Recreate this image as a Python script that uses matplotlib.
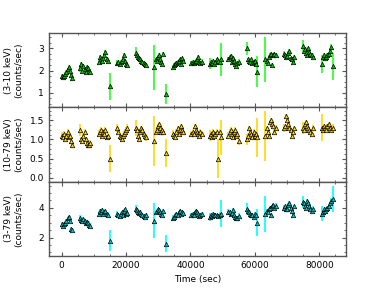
import matplotlib
matplotlib.use('Agg')
import matplotlib.pyplot as plt
from matplotlib.ticker import AutoMinorLocator

# observation times (sec), 15 orbits
time = [100, 450, 800, 1150, 1500, 1850, 2200, 2550, 2900, 3250,
        5700, 6050, 6400, 6750, 7100, 7450, 7800, 8150, 8500, 8850,
        11500, 11850, 12200, 12550, 12900, 13250, 13600, 13950, 14300, 15000,
        17300, 17650, 18000, 18350, 18700, 19050, 19400, 19750, 20100, 20450,
        23000, 23350, 23700, 24050, 24400, 24750, 25100, 25450, 25800, 26150,
        28800, 29150, 29500, 29850, 30200, 30550, 30900, 31250, 31600, 32300,
        34600, 34950, 35300, 35650, 36000, 36350, 36700, 37050, 37400, 37750,
        40300, 40650, 41000, 41350, 41700, 42050, 42400, 42750, 43100, 43450,
        46000, 46350, 46700, 47050, 47400, 47750, 48100, 48700, 49100, 49600,
        51800, 52150, 52500, 52850, 53200, 53550, 53900, 54250, 54600, 54950,
        57500, 57850, 58200, 58550, 58900, 59250, 59600, 59950, 60300, 60700,
        63300, 63650, 64000, 64350, 64700, 65050, 65400, 65750, 66100, 66450,
        69000, 69350, 69700, 70050, 70400, 70750, 71100, 71450, 71800, 72150,
        74800, 75150, 75500, 75850, 76200, 76550, 76900, 77250, 77600, 77950,
        80800, 81150, 81500, 81850, 82200, 82550, 82900, 83250, 83600, 84300]

rate_soft = [1.75, 1.72, 1.78, 1.85, 1.95, 2.05, 2.15, 2.0, 1.8, 1.65,
             2.1, 2.3, 2.0, 2.2, 2.05, 1.95, 2.15, 2.1, 2.0, 1.95,
             2.4, 2.6, 2.5, 2.45, 2.55, 2.7, 2.85, 2.5, 2.45, 1.3,
             2.35, 2.4, 2.3, 2.4, 2.45, 2.5, 2.7, 2.45, 2.3, 2.25,
             2.8, 2.7, 2.6, 2.55, 2.5, 2.45, 2.4, 2.35, 2.3, 2.25,
             2.15, 2.5, 2.45, 2.6, 2.7, 2.5, 2.4, 2.3, 2.75, 0.95,
             2.15, 2.25, 2.3, 2.35, 2.4, 2.45, 2.5, 2.3, 2.55, 2.45,
             2.35, 2.4, 2.35, 2.4, 2.45, 2.5, 2.6, 2.4, 2.35, 2.4,
             2.3, 2.4, 2.35, 2.45, 2.3, 2.4, 2.5, 2.45, 2.4, 2.5,
             2.5, 2.6, 2.65, 2.4, 2.55, 2.45, 2.3, 2.2, 2.35, 2.4,
             3.0, 2.5, 2.45, 2.4, 2.5, 2.35, 2.4, 2.45, 2.3, 1.95,
             2.5, 2.45, 2.35, 2.6, 2.7, 2.75, 2.25, 2.7, 2.75, 2.7,
             2.75, 2.7, 2.6, 2.65, 2.8, 2.9, 2.55, 2.5, 2.4, 2.6,
             3.1, 2.9, 2.95, 2.8, 2.7, 3.0, 2.85, 2.75, 2.7, 2.6,
             2.3, 2.6, 2.7, 2.55, 2.6, 2.7, 2.75, 2.9, 3.05, 2.2]
err_soft = [0.1, 0.08, 0.08, 0.08, 0.08, 0.08, 0.08, 0.08, 0.08, 0.1,
            0.15, 0.08, 0.08, 0.08, 0.08, 0.08, 0.08, 0.08, 0.08, 0.1,
            0.12, 0.08, 0.08, 0.08, 0.08, 0.08, 0.08, 0.08, 0.1, 0.6,
            0.12, 0.08, 0.08, 0.08, 0.08, 0.08, 0.08, 0.08, 0.08, 0.12,
            0.25, 0.08, 0.08, 0.08, 0.08, 0.08, 0.08, 0.08, 0.08, 0.1,
            1.0, 0.08, 0.08, 0.08, 0.08, 0.08, 0.08, 0.08, 0.1, 0.45,
            0.12, 0.08, 0.08, 0.08, 0.08, 0.08, 0.08, 0.08, 0.08, 0.1,
            0.1, 0.08, 0.08, 0.08, 0.08, 0.08, 0.08, 0.08, 0.08, 0.1,
            0.25, 0.08, 0.08, 0.08, 0.08, 0.08, 0.08, 0.08, 0.1, 0.75,
            0.12, 0.08, 0.08, 0.08, 0.08, 0.08, 0.08, 0.08, 0.08, 0.12,
            0.3, 0.08, 0.08, 0.08, 0.08, 0.08, 0.08, 0.08, 0.1, 0.7,
            1.0, 0.08, 0.08, 0.08, 0.08, 0.08, 0.08, 0.08, 0.08, 0.1,
            0.12, 0.08, 0.08, 0.08, 0.08, 0.08, 0.08, 0.08, 0.1, 0.08,
            0.25, 0.08, 0.08, 0.08, 0.08, 0.08, 0.08, 0.08, 0.08, 0.1,
            0.4, 0.08, 0.08, 0.08, 0.08, 0.08, 0.08, 0.08, 0.12, 0.6]

rate_hard = [1.1, 1.05, 1.15, 1.0, 1.1, 1.2, 1.05, 1.1, 0.95, 0.85,
             1.25, 1.0, 0.95, 1.1, 1.2, 1.0, 0.9, 0.85, 0.85, 0.9,
             1.15, 1.2, 1.25, 1.1, 1.2, 1.15, 1.25, 1.05, 1.1, 0.5,
             1.3, 1.2, 1.1, 1.05, 1.0, 1.1, 1.15, 1.2, 1.25, 1.3,
             1.3, 1.25, 1.1, 1.0, 1.2, 1.3, 1.25, 1.15, 1.1, 1.05,
             0.95, 1.2, 1.25, 1.35, 1.4, 1.3, 1.2, 1.25, 1.2, 0.65,
             1.15, 1.1, 1.05, 1.2, 1.3, 1.15, 1.25, 1.35, 1.25, 1.2,
             1.15, 1.2, 1.15, 1.35, 1.25, 1.2, 1.15, 1.1, 1.2, 1.15,
             1.1, 1.15, 1.05, 1.2, 1.1, 1.15, 1.2, 0.5, 1.2, 1.05,
             1.1, 1.2, 1.25, 1.15, 1.05, 1.2, 1.25, 1.1, 1.15, 0.95,
             1.0, 1.1, 1.3, 1.2, 1.15, 1.05, 1.2, 1.1, 1.15, 1.05,
             1.1, 1.3, 1.2, 1.1, 1.45, 1.5, 1.4, 1.35, 1.2, 1.3,
             1.3, 1.35, 1.6, 1.5, 1.4, 1.3, 1.25, 1.1, 1.2, 1.3,
             1.3, 1.25, 1.4, 1.45, 1.35, 1.3, 1.25, 1.2, 1.15, 1.3,
             1.3, 1.25, 1.35, 1.3, 1.25, 1.35, 1.4, 1.3, 1.25, 1.3]
err_hard = [0.08, 0.06, 0.06, 0.06, 0.06, 0.06, 0.06, 0.06, 0.06, 0.08,
            0.15, 0.06, 0.06, 0.06, 0.06, 0.06, 0.06, 0.06, 0.06, 0.08,
            0.1, 0.06, 0.06, 0.06, 0.06, 0.06, 0.06, 0.06, 0.08, 0.35,
            0.1, 0.06, 0.06, 0.06, 0.06, 0.06, 0.06, 0.06, 0.06, 0.1,
            0.2, 0.06, 0.06, 0.06, 0.06, 0.06, 0.06, 0.06, 0.06, 0.08,
            0.65, 0.06, 0.06, 0.06, 0.06, 0.06, 0.06, 0.06, 0.08, 0.37,
            0.1, 0.06, 0.06, 0.06, 0.06, 0.06, 0.06, 0.06, 0.06, 0.08,
            0.08, 0.06, 0.06, 0.06, 0.06, 0.06, 0.06, 0.06, 0.06, 0.08,
            0.15, 0.06, 0.06, 0.06, 0.06, 0.06, 0.06, 0.5, 0.08, 0.45,
            0.1, 0.06, 0.06, 0.06, 0.06, 0.06, 0.06, 0.06, 0.06, 0.1,
            0.15, 0.06, 0.06, 0.06, 0.06, 0.06, 0.06, 0.06, 0.08, 0.5,
            0.65, 0.06, 0.06, 0.06, 0.06, 0.06, 0.06, 0.06, 0.06, 0.08,
            0.1, 0.06, 0.06, 0.06, 0.06, 0.06, 0.06, 0.06, 0.08, 0.06,
            0.15, 0.06, 0.06, 0.06, 0.06, 0.06, 0.06, 0.06, 0.06, 0.08,
            0.35, 0.06, 0.06, 0.06, 0.06, 0.06, 0.06, 0.06, 0.08, 0.1]

rate_full = [2.9, 2.8, 2.9, 3.0, 3.1, 3.3, 3.4, 3.1, 2.6, 2.5,
             3.3, 3.2, 3.1, 3.25, 3.1, 3.0, 3.05, 2.95, 2.85, 2.8,
             3.6, 3.8, 3.7, 3.85, 3.6, 3.75, 3.8, 3.6, 3.55, 1.8,
             3.6, 3.5, 3.45, 3.6, 3.7, 3.55, 3.8, 3.9, 3.6, 3.65,
             3.9, 3.85, 3.7, 3.65, 3.75, 3.6, 3.5, 3.45, 3.4, 3.5,
             3.15, 3.7, 3.8, 3.9, 3.85, 3.75, 3.6, 3.5, 3.8, 1.6,
             3.3, 3.4, 3.5, 3.6, 3.5, 3.7, 3.8, 3.6, 3.75, 3.65,
             3.5, 3.6, 3.55, 3.7, 3.8, 3.75, 3.6, 3.45, 3.55, 3.6,
             3.4, 3.5, 3.45, 3.6, 3.5, 3.55, 3.5, 3.45, 3.55, 3.6,
             3.7, 3.75, 3.6, 3.65, 3.85, 3.5, 3.4, 3.35, 3.3, 3.45,
             3.9, 3.8, 3.7, 3.6, 3.5, 3.55, 3.4, 3.6, 3.5, 3.0,
             3.6, 3.8, 3.7, 3.9, 4.0, 3.5, 4.1, 4.2, 4.0, 4.15,
             4.0, 4.1, 3.95, 3.9, 4.2, 4.35, 4.0, 3.8, 3.5, 4.1,
             4.4, 4.3, 4.15, 4.0, 4.45, 4.3, 4.1, 3.9, 3.8, 3.95,
             3.6, 3.75, 3.9, 3.8, 3.95, 4.0, 4.15, 4.3, 4.45, 4.6]
err_full = [0.15, 0.12, 0.12, 0.12, 0.12, 0.12, 0.12, 0.12, 0.12, 0.15,
            0.25, 0.12, 0.12, 0.12, 0.12, 0.12, 0.12, 0.12, 0.12, 0.15,
            0.2, 0.12, 0.12, 0.12, 0.12, 0.12, 0.12, 0.12, 0.15, 0.7,
            0.2, 0.12, 0.12, 0.12, 0.12, 0.12, 0.12, 0.12, 0.12, 0.2,
            0.3, 0.12, 0.12, 0.12, 0.12, 0.12, 0.12, 0.12, 0.12, 0.15,
            1.2, 0.12, 0.12, 0.12, 0.12, 0.12, 0.12, 0.12, 0.15, 0.6,
            0.2, 0.12, 0.12, 0.12, 0.12, 0.12, 0.12, 0.12, 0.12, 0.15,
            0.15, 0.12, 0.12, 0.12, 0.12, 0.12, 0.12, 0.12, 0.12, 0.15,
            0.25, 0.12, 0.12, 0.12, 0.12, 0.12, 0.12, 0.12, 0.15, 0.9,
            0.2, 0.12, 0.12, 0.12, 0.12, 0.12, 0.12, 0.12, 0.12, 0.2,
            0.4, 0.12, 0.12, 0.12, 0.12, 0.12, 0.12, 0.12, 0.15, 0.9,
            1.2, 0.12, 0.12, 0.12, 0.12, 0.12, 0.12, 0.12, 0.12, 0.15,
            0.2, 0.12, 0.12, 0.12, 0.12, 0.12, 0.12, 0.12, 0.15, 0.12,
            0.4, 0.12, 0.12, 0.12, 0.12, 0.12, 0.12, 0.12, 0.12, 0.15,
            0.5, 0.12, 0.12, 0.12, 0.12, 0.12, 0.12, 0.12, 0.2, 0.9]

panels = [
    (rate_soft, err_soft, '#00c800', '#22ff22', '(3-10 keV)\n(counts/sec)', (0.35, 3.68), [1, 2, 3]),
    (rate_hard, err_hard, '#ffd700', '#ffd700', '(10-79 keV)\n(counts/sec)', (-0.1, 1.83), [0.0, 0.5, 1.0, 1.5]),
    (rate_full, err_full, '#00c8c8', '#00ffff', '(3-79 keV)\n(counts/sec)', (0.76, 5.76), [2, 4]),
]

plt.rcParams['font.size'] = 6.5
fig, axes = plt.subplots(3, 1, figsize=(3.84, 2.88), dpi=100, sharex=True)
fig.subplots_adjust(left=0.127, right=0.901, top=0.885, bottom=0.111, hspace=0)

for ax, (y, e, face, ecol, label, ylim, yticks) in zip(axes, panels):
    ax.errorbar(time, y, yerr=e, fmt='none', ecolor=ecol, elinewidth=1.2, capsize=0, zorder=1)
    ax.plot(time, y, '^', markersize=3.2, markerfacecolor=face, markeredgecolor='black',
            markeredgewidth=0.5, linestyle='none', zorder=2)
    ax.set_ylim(ylim)
    ax.set_yticks(yticks)
    ax.set_ylabel(label, fontsize=6.5)
    ax.set_xlim(-4000, 88300)
    ax.xaxis.set_minor_locator(AutoMinorLocator(4))
    ax.yaxis.set_minor_locator(AutoMinorLocator(4))
    ax.tick_params(which='both', direction='in', top=True, right=True, color='#555555')
    ax.tick_params(which='major', length=3, width=0.8)
    ax.tick_params(which='minor', length=1.5, width=0.6)
    for s in ax.spines.values():
        s.set_color('#555555')
        s.set_linewidth(1.0)

axes[-1].set_xticks([0, 20000, 40000, 60000, 80000])
axes[-1].set_xlabel('Time (sec)', fontsize=6.5)
axes[0].yaxis.set_label_coords(-0.085, 0.5)
axes[1].yaxis.set_label_coords(-0.085, 0.5)
axes[2].yaxis.set_label_coords(-0.085, 0.5)

fig.savefig('out.png', dpi=100)
